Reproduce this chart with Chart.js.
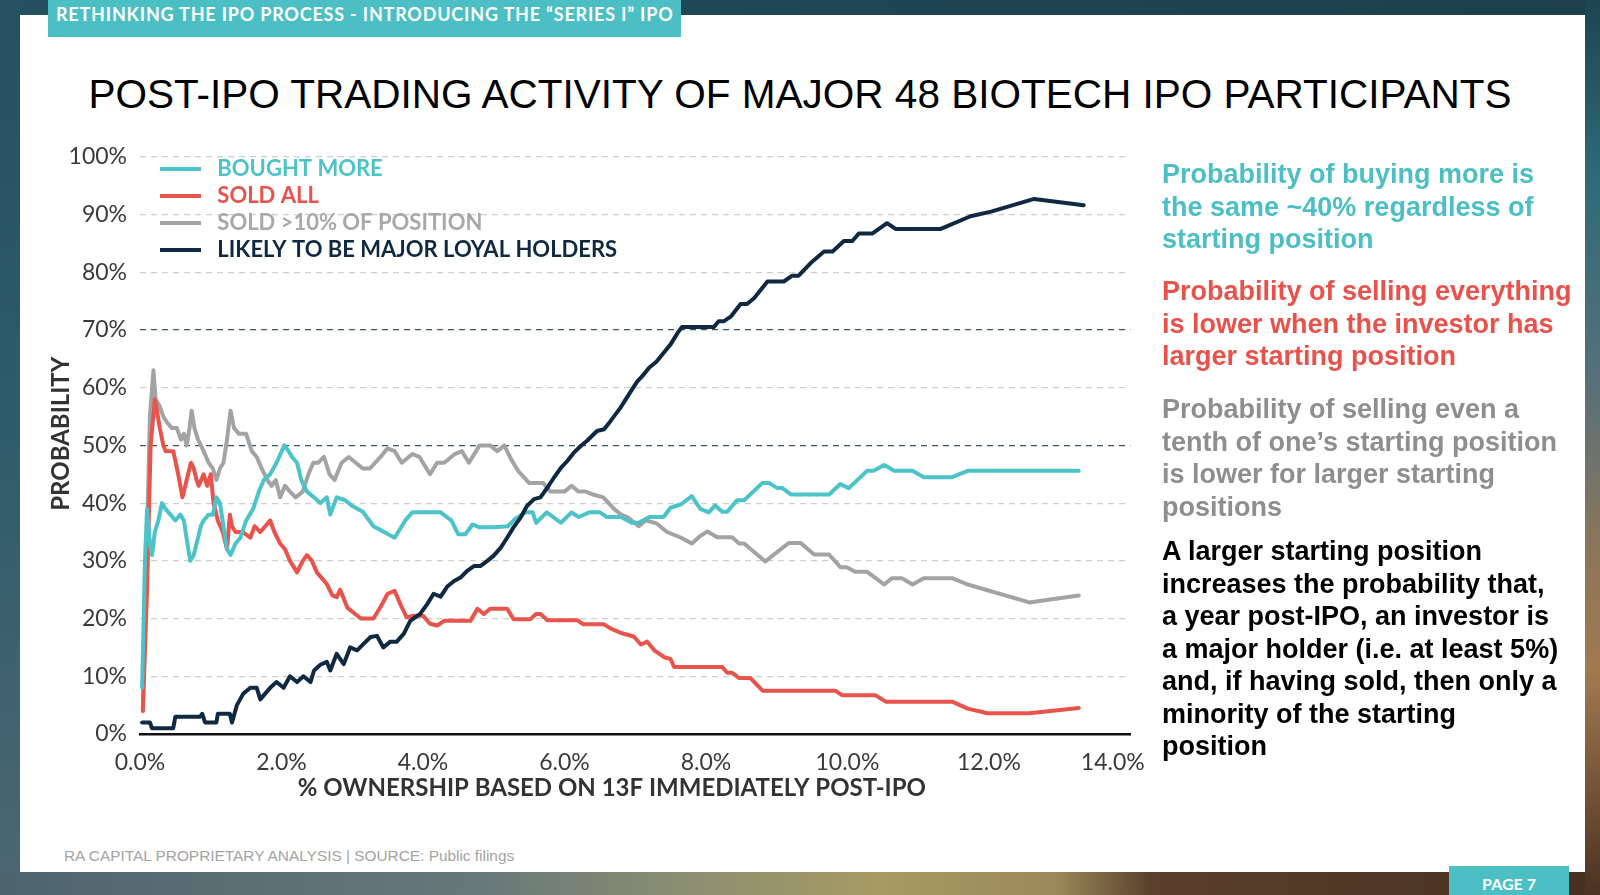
<!DOCTYPE html>
<html>
<head>
<meta charset="utf-8">
<script src="https://cdn.jsdelivr.net/npm/chart.js@4.4.1/dist/chart.umd.min.js"></script>
<style>
  html, body { margin: 0; padding: 0; }
  body {
    width: 1600px; height: 895px; overflow: hidden; position: relative;
    background: linear-gradient(90deg, #4e646d 0%, #67787a 30%, #8e9070 44%, #a69b62 55%, #9a8a5a 66%, #5a3f2c 72%, #46301f 100%);
  }
  #leftStrip { position: absolute; left: 0; top: 0; width: 20px; height: 872px;
    background: linear-gradient(180deg, #24505f 0%, #2f5c6b 50%, #4b6670 100%); }
  #topStrip { position: absolute; left: 0; top: 0; width: 1600px; height: 15px;
    background: linear-gradient(90deg, #24505f 0%, #1e4452 60%, #1d3f4c 100%); }
  #rightStrip { position: absolute; left: 1585px; top: 0; width: 15px; height: 895px;
    background: linear-gradient(180deg, #1d4450 0%, #2f6b76 20%, #55707a 42%, #8c7658 62%, #a07a50 75%, #4a3221 100%); }
  #panel { position: absolute; left: 20px; top: 15px; width: 1565px; height: 857px; background: #fff; }
  #header {
    position: absolute; left: 48px; top: 0; width: 633px; height: 37px; background: #4bbfc4;
    color: #fff; font: 700 18px Lato, sans-serif; letter-spacing: 0.8px; line-height: 28px;
    padding-left: 8px; box-sizing: border-box; white-space: nowrap;
  }
  #title {
    position: absolute; left: 0; width: 1600px; top: 71px; text-align: center;
    font: 400 40.5px "Liberation Sans", Arial, sans-serif; color: #000; white-space: nowrap;
  }
  #chartBox { position: absolute; left: 30px; top: 130px; width: 1165px; height: 684px; }
  .note {
    position: absolute; left: 1162px; width: 430px;
    font: 700 27px "Liberation Sans", Arial, sans-serif; line-height: 32.5px; white-space: nowrap;
  }
  #footer {
    position: absolute; left: 64px; top: 847px; font: 400 15.4px "Liberation Sans", Arial, sans-serif;
    color: #a3a3a3; white-space: nowrap;
  }
  #page {
    position: absolute; left: 1449px; top: 866px; width: 120px; height: 29px; background: #4bbfc4;
    color: #fff; font: 700 16px Lato, sans-serif; text-align: center; line-height: 36px;
  }
</style>
</head>
<body>
<div id="leftStrip"></div>
<div id="topStrip"></div>
<div id="rightStrip"></div>
<div id="panel"></div>
<div id="header">RETHINKING THE IPO PROCESS - INTRODUCING THE “SERIES I” IPO</div>
<div id="title">POST-IPO TRADING ACTIVITY OF MAJOR 48 BIOTECH IPO PARTICIPANTS</div>
<div id="chartBox"><canvas id="chart"></canvas></div>

<div class="note" style="top:158px; color:#4bbfc4;">Probability of buying more is<br>the same ~40% regardless of<br>starting position</div>
<div class="note" style="top:275px; color:#e8524a;">Probability of selling everything<br>is lower when the investor has<br>larger starting position</div>
<div class="note" style="top:393px; color:#8e8e8e;">Probability of selling even a<br>tenth of one’s starting position<br>is lower for larger starting<br>positions</div>
<div class="note" style="top:535px; color:#000;">A larger starting position<br>increases the probability that,<br>a year post-IPO, an investor is<br>a major holder (i.e. at least 5%)<br>and, if having sold, then only a<br>minority of the starting<br>position</div>

<div id="footer">RA CAPITAL PROPRIETARY ANALYSIS | SOURCE: Public filings</div>
<div id="page">PAGE 7</div>

<script>
// [% ownership, probability %]
const boughtMore = [
  [0.03, 8], [0.07, 30], [0.1, 39], [0.14, 33], [0.17, 31], [0.21, 35], [0.26, 37], [0.31, 40],
  [0.36, 39], [0.43, 38], [0.5, 37], [0.57, 38], [0.62, 37], [0.67, 33], [0.71, 30], [0.76, 31],
  [0.8, 33], [0.86, 36], [0.9, 37], [0.97, 38], [1.03, 38], [1.08, 41], [1.13, 40], [1.18, 36],
  [1.23, 32], [1.28, 31], [1.35, 33], [1.42, 34], [1.5, 37], [1.6, 39], [1.68, 42], [1.75, 44],
  [1.84, 45], [1.93, 47], [2.04, 50], [2.1, 49], [2.15, 48], [2.22, 47], [2.28, 44], [2.36, 42],
  [2.46, 41], [2.55, 40], [2.64, 41], [2.69, 38], [2.78, 41], [2.9, 40.5], [3.0, 39.5], [3.15, 38.5],
  [3.3, 36], [3.45, 35], [3.6, 34], [3.75, 37], [3.85, 38.4], [4.25, 38.4], [4.4, 37], [4.5, 34.6],
  [4.6, 34.6], [4.7, 36.3], [4.8, 35.8], [5.0, 35.8], [5.2, 36], [5.3, 37.2], [5.45, 38.4], [5.55, 38.4],
  [5.6, 36.6], [5.75, 38.4], [5.95, 36.6], [6.1, 38.4], [6.2, 37.6], [6.35, 38.4], [6.5, 38.4], [6.6, 37.6],
  [6.8, 37.6], [6.95, 36.6], [7.05, 36.6], [7.2, 37.6], [7.4, 37.6], [7.5, 39.2], [7.65, 39.8], [7.8, 41.2],
  [7.92, 39], [8.04, 38.4], [8.13, 39.6], [8.23, 38.5], [8.3, 38.5], [8.44, 40.5], [8.54, 40.5], [8.8, 43.5],
  [8.89, 43.5], [9.01, 42.6], [9.08, 42.6], [9.2, 41.5], [9.74, 41.5], [9.9, 43.3], [10.02, 42.6], [10.28, 45.6],
  [10.37, 45.6], [10.52, 46.6], [10.66, 45.6], [10.92, 45.6], [11.08, 44.5], [11.48, 44.5], [11.7, 45.6], [13.27, 45.6]
];

const soldAll = [
  [0.04, 4], [0.1, 25], [0.15, 50], [0.21, 58], [0.24, 56], [0.28, 53], [0.33, 50], [0.36, 49],
  [0.47, 49], [0.54, 45], [0.6, 41], [0.66, 44], [0.72, 47], [0.76, 46], [0.8, 44], [0.83, 43],
  [0.9, 45], [0.95, 43], [1.0, 45], [1.04, 40], [1.1, 37], [1.17, 35], [1.23, 32], [1.27, 38],
  [1.3, 36], [1.35, 35], [1.45, 35], [1.56, 34], [1.62, 36], [1.7, 35], [1.84, 37], [1.9, 35],
  [1.98, 33], [2.05, 32], [2.12, 30], [2.22, 28], [2.3, 30], [2.36, 31], [2.43, 30], [2.5, 28],
  [2.57, 27], [2.64, 26], [2.72, 24], [2.78, 23.7], [2.83, 25], [2.93, 21.9], [3.02, 21], [3.12, 20],
  [3.3, 20], [3.4, 22], [3.5, 24.3], [3.6, 24.8], [3.68, 22.5], [3.77, 20.2], [3.87, 20.5], [4.0, 20.5],
  [4.1, 19.1], [4.2, 18.8], [4.3, 19.6], [4.67, 19.6], [4.77, 21.7], [4.86, 20.8], [4.95, 21.7], [5.19, 21.7],
  [5.28, 19.9], [5.52, 19.9], [5.6, 20.8], [5.66, 20.8], [5.76, 19.7], [6.18, 19.7], [6.27, 19], [6.56, 19],
  [6.65, 18.3], [6.8, 17.5], [6.98, 16.9], [7.08, 15.5], [7.17, 16], [7.27, 14.5], [7.41, 13.3], [7.5, 13],
  [7.55, 11.6], [8.23, 11.6], [8.3, 10.6], [8.37, 10.6], [8.47, 9.7], [8.63, 9.7], [8.8, 7.5], [9.83, 7.5],
  [9.93, 6.7], [10.4, 6.7], [10.54, 5.6], [11.48, 5.6], [11.7, 4.4], [11.98, 3.6], [12.57, 3.6], [13.27, 4.5]
];

const soldTenth = [
  [0.04, 4], [0.1, 35], [0.14, 55], [0.19, 63], [0.22, 58], [0.27, 57], [0.33, 55], [0.38, 54],
  [0.45, 53], [0.52, 53], [0.58, 51], [0.62, 52], [0.66, 50], [0.7, 53], [0.73, 56], [0.77, 53],
  [0.82, 51], [0.9, 49], [0.97, 47], [1.03, 46], [1.08, 44], [1.13, 46], [1.18, 47], [1.23, 51],
  [1.28, 56], [1.33, 53], [1.4, 52], [1.5, 52], [1.58, 49], [1.65, 48], [1.72, 46], [1.8, 44],
  [1.86, 43], [1.92, 44], [1.98, 41], [2.05, 43], [2.12, 42], [2.2, 41], [2.3, 42], [2.38, 45],
  [2.45, 47], [2.52, 47], [2.6, 48], [2.68, 45], [2.75, 44], [2.85, 47], [2.95, 48], [3.05, 47],
  [3.15, 46], [3.25, 46], [3.4, 48], [3.5, 49.5], [3.6, 49], [3.7, 47], [3.85, 48.5], [3.95, 48],
  [4.1, 45], [4.2, 47], [4.3, 47], [4.45, 48.5], [4.55, 49], [4.65, 47], [4.8, 50], [4.95, 50],
  [5.05, 49], [5.15, 50], [5.25, 47.5], [5.35, 45.5], [5.5, 43.5], [5.7, 43.5], [5.8, 42], [6.0, 42],
  [6.1, 43], [6.2, 42], [6.3, 42], [6.4, 41.5], [6.55, 41], [6.7, 39], [6.8, 38], [6.9, 37.5],
  [7.05, 36], [7.15, 37], [7.3, 36.5], [7.45, 35], [7.65, 34], [7.8, 33], [7.92, 34.3], [8.02, 35.1],
  [8.16, 34.1], [8.37, 34.1], [8.47, 33], [8.54, 33], [8.84, 29.9], [9.17, 33.1], [9.34, 33.1], [9.53, 31.1],
  [9.74, 31.1], [9.9, 28.9], [9.99, 28.9], [10.11, 28.1], [10.28, 28.1], [10.52, 25.9], [10.63, 27], [10.77, 27],
  [10.92, 25.9], [11.08, 27], [11.48, 27], [11.7, 25.9], [12.57, 22.8], [13.27, 24]
];

const loyalHolders = [
  [0.03, 2], [0.14, 2], [0.17, 1], [0.47, 1], [0.5, 3], [0.85, 3], [0.88, 3.5], [0.92, 2],
  [1.08, 2], [1.1, 3.5], [1.27, 3.5], [1.3, 2], [1.37, 5], [1.46, 7], [1.56, 8], [1.65, 8],
  [1.7, 6], [1.84, 8], [1.93, 9], [2.03, 8], [2.12, 10], [2.22, 9], [2.31, 10], [2.41, 9],
  [2.46, 11], [2.55, 12], [2.64, 12.5], [2.69, 11], [2.78, 13.9], [2.88, 12.1], [2.97, 15], [3.07, 14.5],
  [3.16, 15.6], [3.26, 16.8], [3.35, 17], [3.44, 15], [3.54, 16], [3.63, 16], [3.73, 17.4], [3.82, 19.6],
  [3.96, 20.8], [4.06, 22.5], [4.15, 24.3], [4.25, 23.8], [4.34, 25.5], [4.44, 26.5], [4.53, 27.1], [4.62, 28.2],
  [4.72, 29.1], [4.81, 29.1], [4.91, 30], [5.0, 30.9], [5.1, 32.3], [5.19, 34], [5.28, 35.8], [5.38, 37.5],
  [5.47, 39.5], [5.57, 40.7], [5.66, 41], [5.76, 42.7], [5.85, 44.4], [5.95, 46.1], [6.04, 47.3], [6.13, 48.7],
  [6.23, 49.9], [6.32, 50.8], [6.46, 52.5], [6.56, 52.8], [6.65, 54.2], [6.79, 56.5], [6.94, 59.4], [7.03, 61.1],
  [7.1, 62], [7.2, 63.5], [7.3, 64.5], [7.4, 66], [7.5, 67.5], [7.6, 69.5], [7.66, 70.5], [8.11, 70.5],
  [8.18, 71.5], [8.25, 71.5], [8.35, 72.3], [8.49, 74.5], [8.58, 74.5], [8.68, 75.5], [8.87, 78.4], [9.1, 78.4],
  [9.22, 79.4], [9.31, 79.4], [9.48, 81.6], [9.67, 83.6], [9.79, 83.6], [9.95, 85.4], [10.07, 85.4], [10.16, 86.7],
  [10.35, 86.7], [10.56, 88.5], [10.68, 87.5], [11.32, 87.5], [11.74, 89.7], [12.03, 90.5], [12.64, 92.7], [13.34, 91.6]
];

const seriesLabels = ['BOUGHT MORE', 'SOLD ALL', 'SOLD >10% OF POSITION', 'LIKELY TO BE MAJOR LOYAL HOLDERS'];
const seriesColors = ['#4cc3c8', '#e8534b', '#a3a3a3', '#0e2941'];
const legendTextColors = ['#4cc3c8', '#e8534b', '#a8a8a8', '#0e2941'];
const drawOrder = [1, 2, 3, 0];

const tickFont = { family: 'Lato', size: 23 };
const tickColor = '#3a3a3a';
const titleFont = { family: 'Lato', size: 24, weight: '700' };

// the legend sits inside the plot, top left, like the original
const legendShift = {
  id: 'legendShift',
  afterLayout(chart) {
    chart.legend.left += 15;
    chart.legend.top = 23;
  }
};

const datasets = [boughtMore, soldAll, soldTenth, loyalHolders].map((d, i) => ({
  label: seriesLabels[i],
  data: d,
  borderColor: seriesColors[i],
  backgroundColor: seriesColors[i],
  borderWidth: 4,
  pointRadius: 0,
  tension: 0,
  fill: false,
  order: drawOrder[i],
  borderJoinStyle: 'round',
  borderCapStyle: 'round'
}));

new Chart(document.getElementById('chart'), {
  type: 'line',
  data: { datasets },
  plugins: [legendShift],
  options: {
    responsive: true,
    maintainAspectRatio: false,
    animation: false,
    layout: { padding: { top: 25, right: 30, left: 0, bottom: 0 } },
    scales: {
      x: {
        type: 'linear',
        min: 0, max: 14,
        ticks: {
          stepSize: 2, padding: 15, color: tickColor, font: tickFont,
          // last label sits a little inside the axis end, as in the original
          callback: v => v === 14 ? v.toFixed(1) + '%      ' : v.toFixed(1) + '%'
        },
        grid: { display: false, drawTicks: false },
        border: { display: true, color: '#111', width: 2.5 },
        title: {
          display: true, text: '% OWNERSHIP BASED ON 13F IMMEDIATELY POST-IPO        ',
          color: '#333', font: titleFont,
          padding: { top: 0, bottom: 11 }
        },
        afterFit: s => { s.height = 80; }
      },
      y: {
        min: 0, max: 100,
        ticks: {
          stepSize: 10, padding: 13, color: tickColor, font: tickFont,
          callback: v => v + '%'
        },
        grid: {
          drawTicks: false,
          lineWidth: 1.2,
          color: c => c.tick.value === 0 ? 'rgba(0,0,0,0)' :
            (c.tick.value === 50 || c.tick.value === 70) ? '#3d5266' : '#cdcdcd'
        },
        border: { display: false, dash: [6, 5] },
        title: {
          display: true, text: '    PROBABILITY',
          color: '#333', font: titleFont,
          padding: { top: 17, bottom: 0 }
        },
        afterFit: s => { s.width = 110; }
      }
    },
    plugins: {
      tooltip: { enabled: false },
      legend: {
        position: 'chartArea',
        align: 'start',
        labels: {
          boxWidth: 41, boxHeight: 4, padding: 5,
          font: { family: 'Lato', size: 22, weight: '700' },
          generateLabels: chart => chart.data.datasets.map((ds, i) => ({
            text: ' ' + ds.label,
            fillStyle: ds.borderColor,
            strokeStyle: ds.borderColor,
            lineWidth: 0,
            fontColor: legendTextColors[i],
            hidden: false,
            datasetIndex: i
          }))
        }
      }
    }
  }
});
</script>
</body>
</html>
